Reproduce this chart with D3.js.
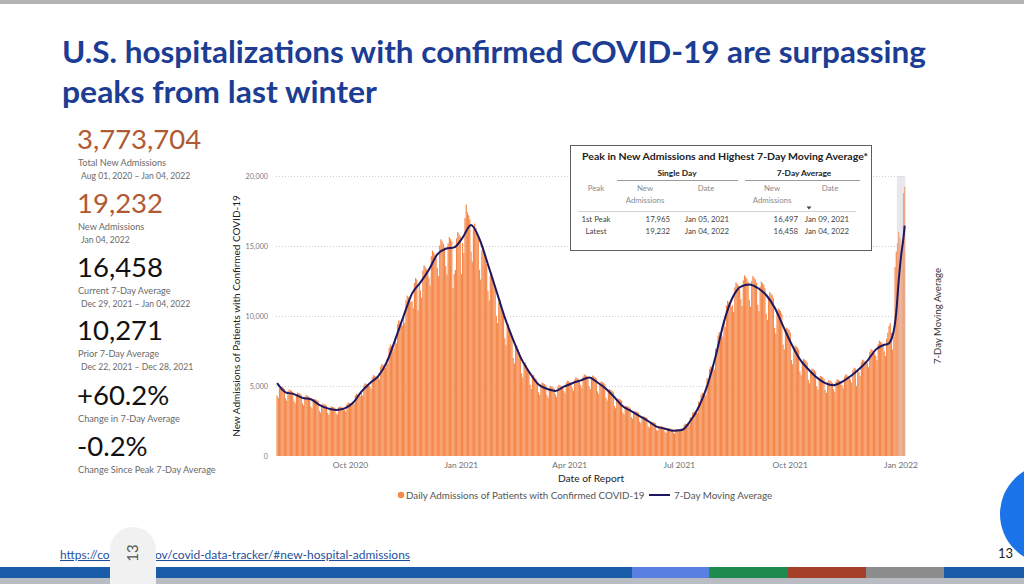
<!DOCTYPE html>
<html>
<head>
<meta charset="utf-8">
<script src="https://cdn.jsdelivr.net/npm/d3@7"></script>
<style>
  body { margin: 0; background: #fff; }
  svg { display: block; font-family: Lato, "Open Sans", sans-serif; }
</style>
</head>
<body>
<div id="okvir"></div>
<script>
// ---- data ----
const firstDay = "2020-08-01";
// daily new admissions, one row per week (Sat..Fri)
const dailyAdmissions = [
  4320, 4140, 4840, 4980, 4940, 4890, 4790,
  4130, 3950, 4620, 4750, 4710, 4660, 4570,
  3940, 3770, 4410, 4540, 4500, 4460, 4370,
  3770, 3610, 4220, 4350, 4310, 4260, 4180,
  3540, 3390, 3970, 4080, 4040, 4000, 3930,
  3240, 3100, 3630, 3740, 3700, 3670, 3600,
  3080, 2940, 3450, 3550, 3510, 3480, 3410,
  3050, 2960, 3470, 3520, 3530, 3460, 3420,
  3310, 3170, 3710, 3820, 3780, 3740, 3670,
  3860, 3700, 4330, 4450, 4410, 4370, 4280,
  4510, 4310, 5050, 5190, 5150, 5100, 5000,
  5010, 4800, 5610, 5780, 5720, 5670, 5560,
  5700, 5460, 6390, 6570, 6510, 6450, 6320,
  6900, 6600, 7730, 7950, 7880, 7800, 7650,
  8420, 8050, 9420, 9700, 9610, 9520, 9330,
  9940, 9500, 11120, 11450, 11340, 11230, 11020,
  11040, 10560, 12360, 12720, 12600, 10400, 12240,
  11820, 11310, 13240, 13620, 13490, 13360, 13110,
  12740, 12190, 14270, 14680, 14540, 14400, 14130,
  13430, 12850, 15040, 15480, 15330, 15180, 14890,
  13570, 12980, 15190, 15640, 15490, 15340, 12000,
  13000, 13290, 15550, 16010, 15860, 15700, 13000,
  15200, 14500, 17000, 17965, 17400, 17200, 16900,
  14600, 13900, 16200, 16600, 16300, 15900, 15500,
  13300, 12600, 14700, 14900, 14500, 14100, 13700,
  11800, 11100, 12900, 13100, 12700, 12300, 11900,
  10000, 9500, 11000, 11200, 10800, 10500, 10100,
  8400, 7900, 9300, 9400, 9100, 8800, 8500,
  7000, 6600, 7800, 7900, 7600, 7400, 7100,
  5900, 5600, 6600, 6700, 6500, 6300, 6100,
  5100, 4800, 5700, 5800, 5600, 5500, 5300,
  4550, 4360, 5100, 5250, 5200, 5150, 5050,
  4350, 4160, 4870, 5010, 4960, 4910, 4820,
  4420, 4220, 4940, 5090, 5040, 4990, 4900,
  4670, 4470, 5230, 5380, 5330, 5280, 5180,
  4880, 4660, 5460, 5620, 5570, 5510, 5410,
  5060, 4840, 5670, 5830, 5780, 5720, 5610,
  4990, 4770, 5590, 5750, 5700, 5640, 5530,
  4620, 4420, 5180, 5330, 5280, 5230, 5130,
  4140, 3960, 4640, 4770, 4730, 4680, 4590,
  3570, 3410, 3990, 4110, 4070, 4030, 3950,
  3110, 2970, 3480, 3580, 3540, 3510, 3440,
  2780, 2660, 3120, 3210, 3180, 3150, 3090,
  2460, 2350, 2760, 2840, 2810, 2780, 2730,
  2120, 2020, 2370, 2440, 2420, 2390, 2350,
  1860, 1780, 2090, 2150, 2130, 2110, 2070,
  1730, 1650, 1930, 1990, 1970, 1950, 1910,
  1680, 1610, 1880, 1930, 1920, 1900, 1860,
  2000, 1910, 2240, 2310, 2280, 2260, 2220,
  2760, 2640, 3090, 3180, 3150, 3120, 3060,
  3910, 3740, 4380, 4510, 4460, 4420, 4340,
  5570, 5320, 6230, 6410, 6350, 6290, 6170,
  7680, 7350, 8600, 8850, 8770, 8680, 8520,
  9610, 9200, 10760, 11080, 10970, 10870, 10660,
  10760, 10300, 12050, 12400, 12290, 12170, 11930,
  11200, 10710, 12540, 12910, 12780, 12660, 12420,
  11160, 10670, 12490, 12850, 12730, 12610, 12370,
  10810, 10340, 12100, 12460, 12340, 12220, 11990,
  10170, 9720, 11380, 11710, 11600, 11490, 11270,
  9150, 8760, 10250, 10550, 10450, 10350, 10150,
  7960, 7610, 8910, 9170, 9080, 9000, 8820,
  6850, 6560, 7670, 7900, 7820, 7750, 7600,
  6030, 5760, 6750, 6940, 6880, 6810, 6680,
  5430, 5190, 6080, 6250, 6200, 6140, 6020,
  4970, 4750, 5560, 5720, 5670, 5620, 5510,
  4720, 4510, 5280, 5430, 5380, 5330, 5230,
  4760, 4550, 5330, 5490, 5430, 5380, 5280,
  5060, 4840, 5670, 5830, 5780, 5720, 5610,
  5470, 5240, 6130, 6310, 6250, 5000, 6070,
  5980, 5720, 6700, 6890, 6830, 6760, 6630,
  6620, 6340, 7420, 7630, 7560, 7490, 7340,
  7150, 6840, 8010, 8240, 8160, 8090, 7930,
  7480, 7150, 8370, 8800, 9300, 9500, 8800,
  7600, 8500, 13500, 14600, 15200, 16000, 15600,
  15000, 15400, 18774, 19232
];

// 7-day moving average
const avgDates = [
  "2020-08-01","2020-08-08","2020-08-15","2020-08-22","2020-08-29",
  "2020-09-05","2020-09-12","2020-09-19","2020-09-26",
  "2020-10-03","2020-10-10","2020-10-17","2020-10-24","2020-10-31",
  "2020-11-07","2020-11-14","2020-11-21","2020-11-28",
  "2020-12-05","2020-12-12","2020-12-19","2020-12-26",
  "2021-01-02","2021-01-09","2021-01-16","2021-01-23","2021-01-30",
  "2021-02-06","2021-02-13","2021-02-20","2021-02-27",
  "2021-03-06","2021-03-13","2021-03-20","2021-03-27",
  "2021-04-03","2021-04-10","2021-04-17","2021-04-24",
  "2021-05-01","2021-05-08","2021-05-15","2021-05-22","2021-05-29",
  "2021-06-05","2021-06-12","2021-06-19","2021-06-26",
  "2021-07-03","2021-07-10","2021-07-17","2021-07-24","2021-07-31",
  "2021-08-07","2021-08-14","2021-08-21","2021-08-28",
  "2021-09-04","2021-09-11","2021-09-18","2021-09-25",
  "2021-10-02","2021-10-09","2021-10-16","2021-10-23","2021-10-30",
  "2021-11-06","2021-11-13","2021-11-20","2021-11-27",
  "2021-12-04","2021-12-11","2021-12-18","2021-12-21","2021-12-25",
  "2021-12-28","2021-12-30","2022-01-01","2022-01-03","2022-01-04"
];
const avgValues = [
  5200, 4550, 4420, 4150, 4050,
  3650, 3400, 3290, 3400,
  3800, 4600, 5200, 5700, 6700,
  8300, 10000, 11600, 12400,
  13300, 14400, 14800, 14900,
  15600, 16497, 15500, 13700, 11800,
  9900, 8300, 6900, 5900,
  5100, 4800, 4650, 4950,
  5200, 5400, 5600, 5250,
  4800, 4200, 3550, 3200, 2850,
  2500, 2100, 1950, 1800,
  1850, 2500, 3500, 5000, 7100,
  9600, 11300, 12100, 12250,
  12000, 11500, 10600, 9300,
  8000, 6900, 6200, 5600, 5200,
  5050, 5300, 5700, 6200,
  6800, 7600, 7950, 8000, 8600,
  10271, 12500, 14300, 15600, 16458
];

const incompleteFrom = "2021-12-29";
const xTickDates = ["2020-10-01", "2021-01-01", "2021-04-01", "2021-07-01", "2021-10-01", "2022-01-01"];
const xTickLabels = ["Oct 2020", "Jan 2021", "Apr 2021", "Jul 2021", "Oct 2021", "Jan 2022"];
const yTicks = [0, 5000, 10000, 15000, 20000];

const statValues = ["3,773,704", "19,232", "16,458", "10,271", "+60.2%", "-0.2%"];
const statLabels = ["Total New Admissions", "New Admissions", "Current 7-Day Average",
  "Prior 7-Day Average", "Change in 7-Day Average", "Change Since Peak 7-Day Average"];
const statDates = ["Aug 01, 2020 \u2013 Jan 04, 2022", "Jan 04, 2022", "Dec 29, 2021 \u2013 Jan 04, 2022",
  "Dec 22, 2021 \u2013 Dec 28, 2021", "", ""];

const tableTitle = "Peak in New Admissions and Highest 7-Day Moving Average*";
const tableGroups = ["Single Day", "7-Day Average"];
const tableRows = [
  ["1st Peak", "17,965", "Jan 05, 2021", "16,497", "Jan 09, 2021"],
  ["Latest", "19,232", "Jan 04, 2022", "16,458", "Jan 04, 2022"]
];

const bottomStripes = ["#1b5ca8", "#5a7fe2", "#1d8a4e", "#a63f28", "#8d8d8d", "#1b5ca8"];

// ---- drawing ----
const parse = d3.timeParse("%Y-%m-%d");
const start = parse(firstDay);

const svg = d3.select("#okvir").append("svg")
  .attr("width", 1024)
  .attr("height", 584);

svg.append("rect").attr("width", 1024).attr("height", 584).attr("fill", "#fff");
svg.append("rect").attr("width", 1024).attr("height", 4).attr("fill", "#b3b3b3");

// title
const titleLines = ["U.S. hospitalizations with confirmed COVID-19 are surpassing", "peaks from last winter"];
const titleWidths = [864, 315];
svg.selectAll(".title").data(titleLines).join("text")
  .attr("class", "title")
  .attr("x", 62)
  .attr("y", (d, i) => 63 + i * 40)
  .attr("textLength", (d, i) => titleWidths[i])
  .attr("lengthAdjust", "spacingAndGlyphs")
  .attr("font-size", 30.5)
  .attr("font-weight", 700)
  .attr("fill", "#1c3d93")
  .text(d => d);

// left KPI panel
const statBase = [149, 213, 277, 340, 405, 456];
const stats = svg.append("g");
statValues.forEach((v, i) => {
  stats.append("text")
    .attr("x", 77).attr("y", statBase[i])
    .attr("font-size", 27.5)
    .attr("fill", i < 2 ? "#b05a33" : "#111")
    .text(v);
  stats.append("text")
    .attr("x", 78).attr("y", statBase[i] + 17)
    .attr("font-size", 9.2)
    .attr("fill", "#6a6a6a")
    .text(statLabels[i]);
  if (statDates[i]) {
    stats.append("text")
      .attr("x", 81).attr("y", statBase[i] + 30)
      .attr("font-size", 8.6)
      .attr("fill", "#6a6a6a")
      .text(statDates[i]);
  }
});

// chart
const x = d3.scaleTime()
  .domain([start, parse("2022-01-05")])
  .range([276.5, 905.3]);
const y = d3.scaleLinear()
  .domain([0, 20000])
  .range([456, 176]);

const chart = svg.append("g");

// shaded incomplete period
const incStart = parse(incompleteFrom);
chart.append("rect")
  .attr("x", x(incStart))
  .attr("y", y(20000))
  .attr("width", x(parse("2022-01-05")) - x(incStart))
  .attr("height", y(0) - y(20000))
  .attr("fill", "#e9e6ed");

// grid
chart.selectAll(".grid").data(yTicks.filter(d => d > 0)).join("line")
  .attr("x1", 276).attr("x2", 905)
  .attr("y1", d => y(d) + 0.5).attr("y2", d => y(d) + 0.5)
  .attr("stroke", "#cfcfcf")
  .attr("stroke-dasharray", "1,2");

// bars
const days = dailyAdmissions.map((v, i) => ({ date: d3.timeDay.offset(start, i), value: v }));
chart.selectAll(".bar").data(days).join("rect")
  .attr("class", "bar")
  .attr("x", d => x(d.date))
  .attr("width", d => x(d3.timeDay.offset(d.date, 1)) - x(d.date))
  .attr("y", d => y(d.value))
  .attr("height", d => y(0) - y(d.value))
  .attr("fill", d => d.date >= incStart ? "#eba584" : "#f5884a");

// 7-day average line
const avg = avgDates.map((d, i) => ({ date: parse(d), value: avgValues[i] }));
const line = d3.line()
  .x(d => x(d3.timeHour.offset(d.date, 12)))
  .y(d => y(d.value))
  .curve(d3.curveMonotoneX);
chart.append("path")
  .attr("d", line(avg))
  .attr("fill", "none")
  .attr("stroke", "#1d1860")
  .attr("stroke-width", 2);

// axes
const yAxis = chart.append("g")
  .attr("transform", "translate(275,0)")
  .call(d3.axisLeft(y).tickValues(yTicks).tickSize(0).tickPadding(7).tickFormat(d3.format(",")));
yAxis.select(".domain").remove();
yAxis.selectAll("text").attr("font-size", 7.2).attr("fill", "#7a7a7a").attr("font-family", "Lato, sans-serif");

const xAxis = chart.append("g")
  .attr("transform", "translate(0,456)")
  .call(d3.axisBottom(x).tickValues(xTickDates.map(parse)).tickSize(0).tickPadding(6)
    .tickFormat((d, i) => xTickLabels[i]));
xAxis.select(".domain").remove();
xAxis.selectAll("text").attr("font-size", 8.4).attr("fill", "#707070").attr("font-family", "Lato, sans-serif");

chart.append("text")
  .attr("transform", "translate(240,316) rotate(-90)")
  .attr("text-anchor", "middle")
  .attr("font-size", 10)
  .attr("fill", "#222")
  .text("New Admissions of Patients with Confirmed COVID-19");

chart.append("text")
  .attr("x", 591).attr("y", 482)
  .attr("text-anchor", "middle")
  .attr("font-size", 10.2)
  .attr("fill", "#222")
  .text("Date of Report");

chart.append("text")
  .attr("transform", "translate(941,316) rotate(-90)")
  .attr("text-anchor", "middle")
  .attr("font-size", 9.6)
  .attr("fill", "#333")
  .text("7-Day Moving Average");

// legend
const legend = svg.append("g").attr("font-size", 9.8).attr("fill", "#555");
legend.append("circle").attr("cx", 401).attr("cy", 495).attr("r", 3.2).attr("fill", "#f5884a");
legend.append("text").attr("x", 406).attr("y", 499).text("Daily Admissions of Patients with Confirmed COVID-19");
legend.append("line").attr("x1", 649).attr("x2", 670).attr("y1", 495).attr("y2", 495)
  .attr("stroke", "#1d1860").attr("stroke-width", 2);
legend.append("text").attr("x", 674).attr("y", 499).text("7-Day Moving Average");

// peak table
const tbl = svg.append("g").attr("font-size", 7.8).attr("fill", "#444");
tbl.append("rect")
  .attr("x", 570.5).attr("y", 145.5).attr("width", 301).attr("height", 105)
  .attr("fill", "#fff").attr("stroke", "#5e5e5e");
tbl.append("text")
  .attr("x", 582).attr("y", 160)
  .attr("textLength", 286).attr("lengthAdjust", "spacingAndGlyphs")
  .attr("font-size", 9.6).attr("font-weight", 700).attr("fill", "#222")
  .text(tableTitle);
const groupX = [677, 804];
const groupLine = [[617, 738], [745, 860]];
tableGroups.forEach((g, i) => {
  tbl.append("text").attr("x", groupX[i]).attr("y", 176)
    .attr("text-anchor", "middle").attr("font-weight", 700).attr("font-size", 8.4)
    .attr("fill", "#222").text(g);
  tbl.append("line").attr("x1", groupLine[i][0]).attr("x2", groupLine[i][1])
    .attr("y1", 180.5).attr("y2", 180.5).attr("stroke", "#9a9a9a");
});
const headX = [596, 645, 706, 772, 830];
const heads = [["Peak"], ["New", "Admissions"], ["Date"], ["New", "Admissions"], ["Date"]];
heads.forEach((h, i) => {
  h.forEach((t, j) => {
    tbl.append("text").attr("x", headX[i]).attr("y", 191 + j * 12)
      .attr("text-anchor", "middle").attr("fill", "#8a8a8a").text(t);
  });
});
tbl.append("path").attr("d", "M806.5,206.5 L811.5,206.5 L809,209.5 Z").attr("fill", "#444");
tbl.append("line").attr("x1", 578).attr("x2", 856).attr("y1", 211.5).attr("y2", 211.5).attr("stroke", "#d4d4d4");
const colX = [596, 670, 707, 798, 827];
const colAnchor = ["middle", "end", "middle", "end", "middle"];
tableRows.forEach((r, i) => {
  r.forEach((c, j) => {
    tbl.append("text").attr("x", colX[j]).attr("y", 222 + i * 12)
      .attr("text-anchor", colAnchor[j]).attr("fill", "#444").text(c);
  });
});

// footer
svg.append("circle").attr("cx", 1050).attr("cy", 514).attr("r", 50).attr("fill", "#1a73e8");
svg.append("text").attr("x", 1013).attr("y", 558).attr("text-anchor", "end")
  .attr("font-size", 13).attr("fill", "#222").text("13");

const stripeX = [0, 632, 709, 788, 866, 944, 1024];
bottomStripes.forEach((c, i) => {
  svg.append("rect").attr("x", stripeX[i]).attr("y", 567)
    .attr("width", stripeX[i + 1] - stripeX[i]).attr("height", 11).attr("fill", c);
});
svg.append("rect").attr("x", 0).attr("y", 578).attr("width", 1024).attr("height", 6).attr("fill", "#b9bcc2");

svg.append("text")
  .attr("x", 60).attr("y", 559)
  .attr("textLength", 350).attr("lengthAdjust", "spacingAndGlyphs")
  .attr("font-size", 10.5).attr("fill", "#1f4f9c")
  .attr("text-decoration", "underline")
  .text("https://covid.cdc.gov/covid-data-tracker/#new-hospital-admissions");

svg.append("path")
  .attr("d", "M110,584 L110,550 A23,23 0 0 1 133,527 A23,23 0 0 1 156,550 L156,584 Z")
  .attr("fill", "#f1f1f1");
svg.append("text")
  .attr("transform", "translate(138,553) rotate(-90)")
  .attr("text-anchor", "middle")
  .attr("font-size", 15)
  .attr("fill", "#555")
  .text("13");
</script>
</body>
</html>
